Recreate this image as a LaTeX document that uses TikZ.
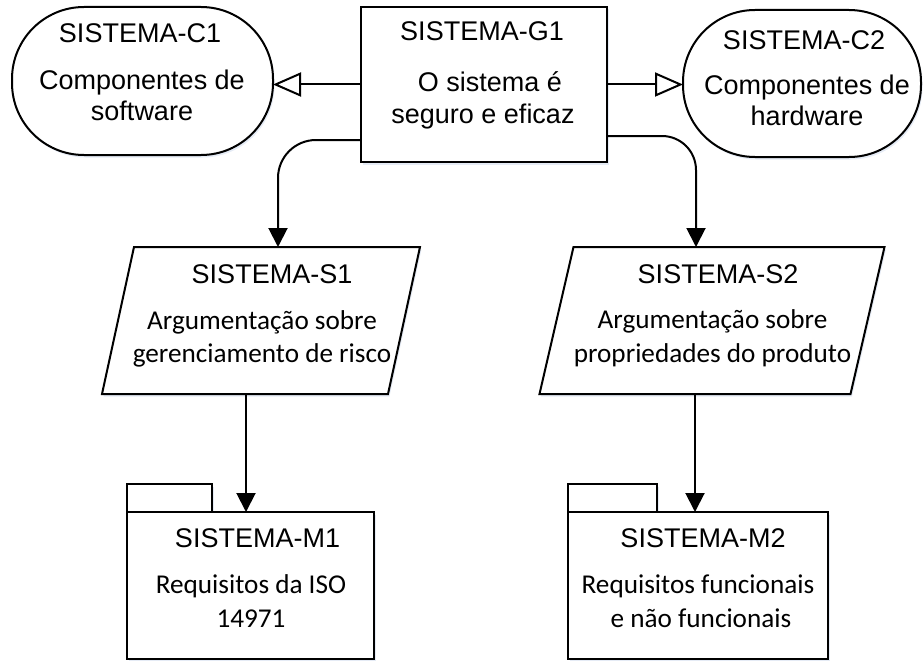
\documentclass[tikz,border=0pt]{standalone}
\usepackage{fontspec}
\setmainfont{Liberation Sans}
\newfontfamily\calfont{Carlito}
\usetikzlibrary{arrows.meta,calc,shadows}
\definecolor{shadowblue}{RGB}{150,175,215}
\begin{document}
\begin{tikzpicture}[x=1pt,y=-1pt, line width=2pt,
  softshadow/.style={drop shadow={shadow xshift=1.5pt, shadow yshift=-2.5pt, opacity=0.25, fill=shadowblue}},
  shapebox/.style={draw, fill=white, softshadow, inner sep=0pt, outer sep=0pt},
  hidebox/.style={inner sep=0pt, outer sep=0pt},
  ar/.style={font=\fontsize{27}{30}\selectfont, anchor=base, inner sep=0pt},
  cb/.style={font=\calfont\fontsize{27.2}{32}\selectfont, anchor=base, inner sep=0pt},
  openarrow/.style={-{Triangle[open, length=28pt, width=24pt, fill=white]}},
  solidarrow/.style={-{Triangle[length=19pt, width=19pt]}}]
\useasboundingbox (0,0) rectangle (924,661);

% shapes
\node[shapebox, rounded corners=72pt, minimum width=261pt, minimum height=148pt] (c1) at (142.5,81) {};
\node[shapebox, minimum width=246pt, minimum height=155pt] (g1) at (484,84.5) {};
\node[shapebox, rounded corners=72pt, minimum width=238pt, minimum height=147pt] (c2) at (802,83.5) {};

\node[hidebox, minimum width=286pt, minimum height=147pt] (s1) at (261,320.5) {};
\draw[fill=white, softshadow] ([xshift=16pt]s1.north west) -- ([xshift=16pt]s1.north east) -- ([xshift=-16pt]s1.south east) -- ([xshift=-16pt]s1.south west) -- cycle;
\node[hidebox, minimum width=311pt, minimum height=147pt] (s2) at (712,320.5) {};
\draw[fill=white, softshadow] ([xshift=17pt]s2.north west) -- ([xshift=17pt]s2.north east) -- ([xshift=-17pt]s2.south east) -- ([xshift=-17pt]s2.south west) -- cycle;

\coordinate (m1tab) at (127,512);
\draw[fill=white, softshadow] (m1tab) rectangle ++(85,-28);
\node[shapebox, minimum width=247pt, minimum height=147pt] (m1) at (250.5,585.5) {};
\coordinate (m2tab) at (568,512);
\draw[fill=white, softshadow] (m2tab) rectangle ++(89,-28);
\node[shapebox, minimum width=260pt, minimum height=147pt] (m2) at (698,585.5) {};

% connectors
\draw[openarrow] (g1.west) -- (g1.west -| c1.east);
\draw[openarrow] (g1.east) -- (g1.east -| c2.west);
\coordinate (s1in) at ($(s1.north)+(17,0)$);
\draw[solidarrow, rounded corners=38pt] ($(g1.south west)+(0,-22)$) -| (s1in);
\coordinate (s2in) at ($(s2.north)+(-16,0)$);
\draw[solidarrow, rounded corners=34pt] ($(g1.south east)+(0,-26)$) -| (s2in);
\coordinate (s1out) at ($(s1.south)+(-15,0)$);
\draw[solidarrow] (s1out) -- (s1out |- m1.north);
\coordinate (s2out) at ($(s2.south)+(-17,0)$);
\draw[solidarrow] (s2out) -- (s2out |- m2.north);

% texts
\node[ar] (c1t) at (140,43) {SISTEMA-C1};
\node[ar] (c1a) at (142,89) {Componentes de};
\node[ar] (c1b) at (142,120) {software};
\node[ar] (c2t) at (804,50) {SISTEMA-C2};
\node[ar] (c2a) at (807,95) {Componentes de};
\node[ar] (c2b) at (807,125) {hardware};
\node[ar] (g1t) at (482,41) {SISTEMA-G1};
\node[ar] (g1a) at (490,92) {O sistema é};
\node[ar] (g1b) at (483,124) {seguro e eficaz};
\node[ar] (s1t) at (272,283) {SISTEMA-S1};
\node[cb] (s1a) at (262,329) {Argumentação sobre};
\node[cb] (s1b) at (262,362) {gerenciamento de risco};
\node[ar] (s2t) at (718,283) {SISTEMA-S2};
\node[cb] (s2a) at (712.5,328) {Argumentação sobre};
\node[cb] (s2b) at (712.5,362) {propriedades do produto};
\node[ar] (m1t) at (257.5,547) {SISTEMA-M1};
\node[cb] (m1a) at (251,593) {Requisitos da ISO};
\node[cb] (m1b) at (251,627) {14971};
\node[ar] (m2t) at (703,547) {SISTEMA-M2};
\node[cb] (m2a) at (698,593) {Requisitos funcionais};
\node[cb] (m2b) at (701,627) {e não funcionais};
\end{tikzpicture}
\end{document}
